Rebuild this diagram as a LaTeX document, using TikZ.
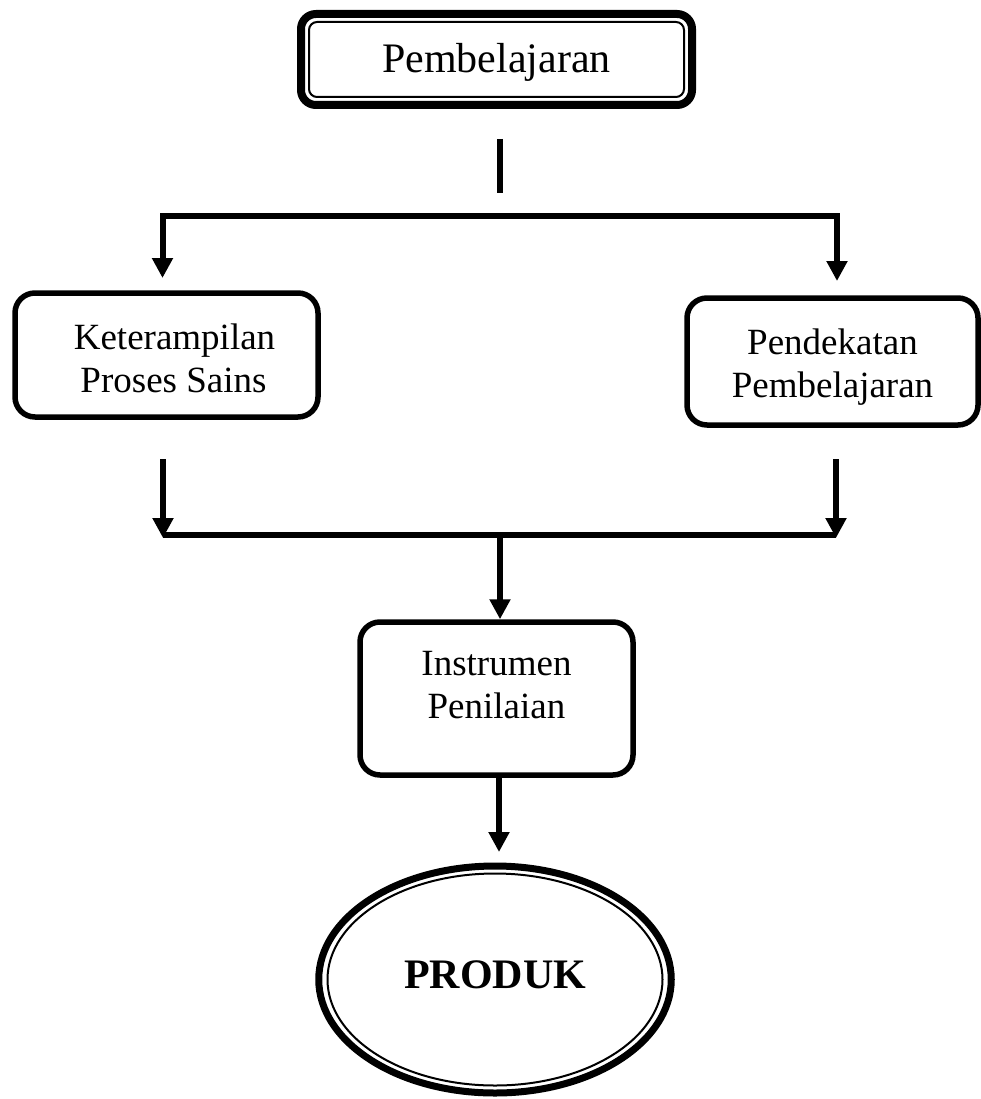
\documentclass[tikz,border=0pt]{standalone}
\usepackage{fontspec}
\setmainfont{Liberation Serif}
\usetikzlibrary{arrows.meta,shapes.geometric}
\begin{document}
\begin{tikzpicture}[x=1pt,y=-1pt,
  box/.style={draw, line width=5.5pt, rounded corners=20pt, align=center,
    font=\fontsize{37}{42.5}\selectfont, inner sep=0pt},
  conn/.style={line width=6pt},
  arr/.style={conn, -{Triangle[width=20pt,length=20pt]}}]
\useasboundingbox (0,0) rectangle (981,1099);

% nodes
\node[box, minimum width=391pt, minimum height=91pt, line width=8pt,
  rounded corners=15pt, font=\fontsize{42}{48}\selectfont,
  text height=29pt, text depth=2pt] (top) at (496.5,59.5) {Pembelajaran};
\draw[line width=2pt, rounded corners=8pt]
  ([shift={(-187.5,-37.5)}]top.center) rectangle ([shift={(187.5,37.5)}]top.center);

\node[box, minimum width=303pt, minimum height=124pt,
  text height=84pt, text depth=10pt] (kps) at (166.5,355)
  {\hspace*{16pt}Keterampilan\\\hspace*{14pt}Proses Sains};

\node[box, minimum width=291pt, minimum height=127pt,
  text height=81pt, text depth=10pt] (pp) at (832.5,361.5)
  {Pendekatan\\Pembelajaran};

\node[box, minimum width=273pt, minimum height=153pt,
  text height=49pt, text depth=10pt] (inst) at (496.5,698.5)
  {Instrumen\\Penilaian};

\node[draw, ellipse, line width=7pt, minimum width=352.5pt, minimum height=227pt,
  inner sep=0pt, font=\fontsize{42}{48}\selectfont\bfseries,
  text height=28pt, text depth=11pt] (prod) at (495,979.5) {PRODUK};
\draw[line width=2pt] (prod.center) ellipse [x radius=167.5pt, y radius=106pt];

% connectors
\coordinate (t1) at (500,139);
\coordinate (t2) at (500,193);
\draw[conn] (t1) -- (t2);

\coordinate (hL) at (162.5,216);
\coordinate (hR) at (837,216);
\coordinate (aL) at (162.5,278);
\coordinate (aR) at (837,281);
\draw[arr] (hR) -- (hL) -- (aL);
\draw[arr] (hL) -- (hR) -- (aR);

\coordinate (bL) at (163,459);
\coordinate (bR) at (836,459);
\coordinate (cL) at (163,538);
\coordinate (cR) at (836,538);
\coordinate (jm) at (500,535);
\draw[arr] (bL) -- (cL);
\draw[arr] (bR) -- (cR);
\draw[conn] (cL |- jm) -- (cR |- jm);
\draw[arr] (jm) -- (jm |- inst.north);

\coordinate (pm) at (499,852);
\draw[arr] (inst.south -| pm) -- (pm);
\end{tikzpicture}
\end{document}
